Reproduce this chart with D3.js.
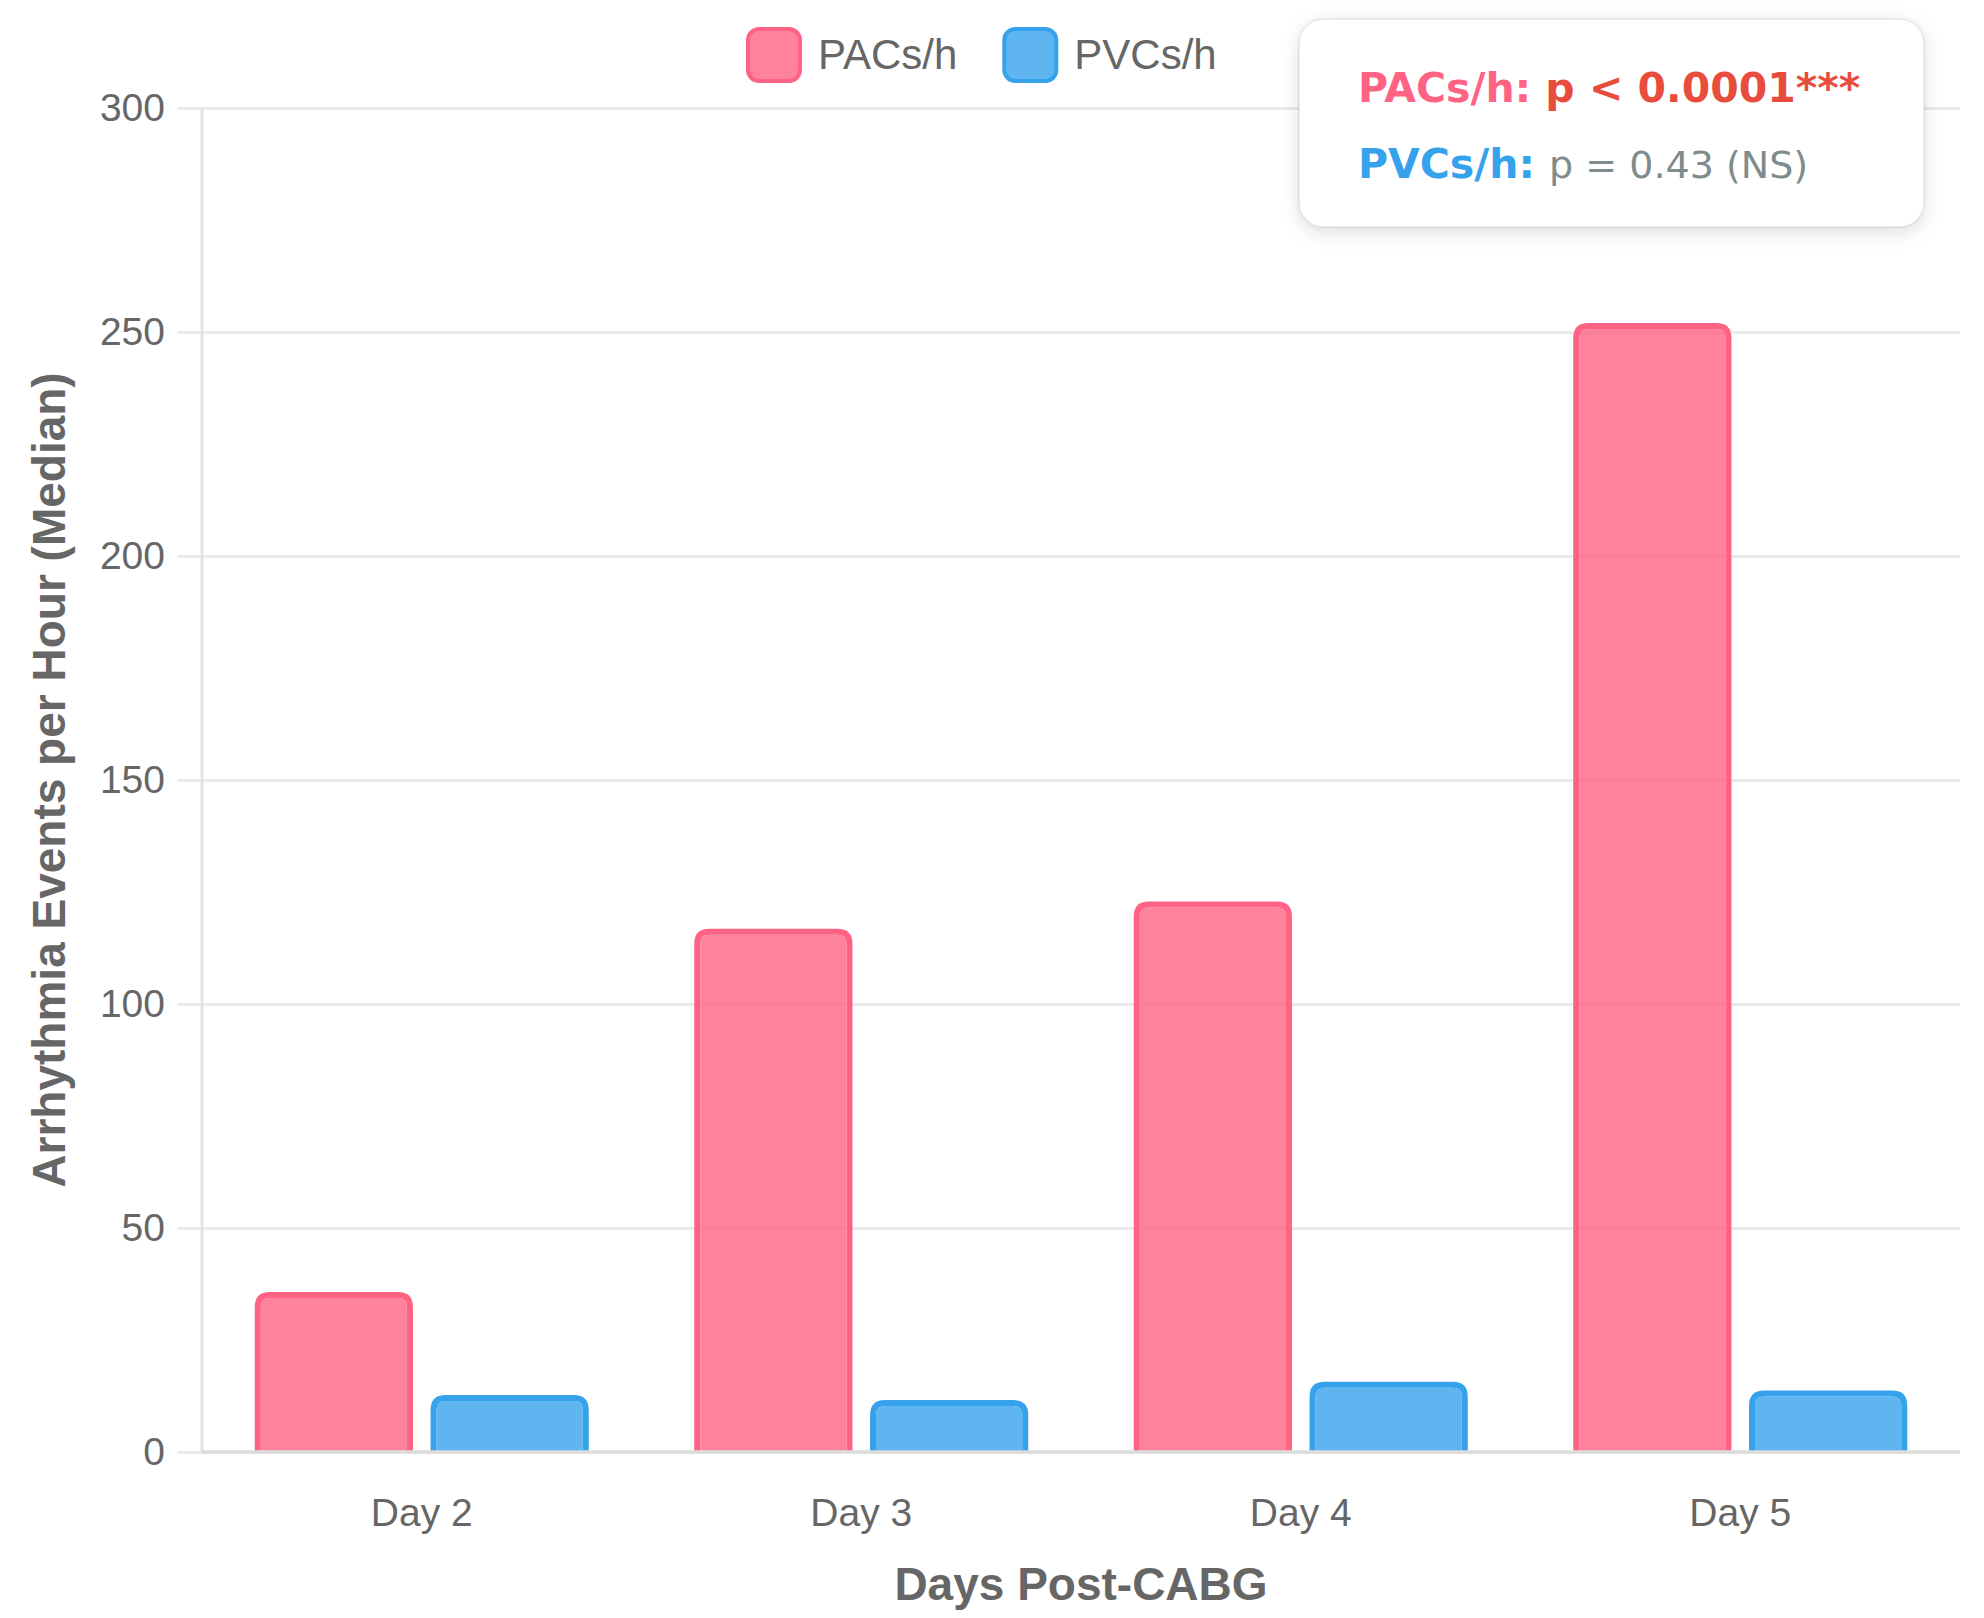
<!DOCTYPE html>
<html>
<head>
<meta charset="utf-8">
<script src="https://cdn.jsdelivr.net/npm/d3@7"></script>
<style>
  html, body { margin: 0; padding: 0; background: #fff; }
  svg { display: block; font-family: "Liberation Sans", Arial, Helvetica, sans-serif; }
</style>
</head>
<body>
<svg id="chart"></svg>
<script>
// data
const days = ['Day 2', 'Day 3', 'Day 4', 'Day 5'];
const seriesNames = ['PACs/h', 'PVCs/h'];
const pacs = [35.7, 116.8, 122.9, 252];
const pvcs = [12.7, 11.6, 15.7, 13.7];
const yTicks = [0, 50, 100, 150, 200, 250, 300];
const pLines = [
  { label: 'PACs/h:', value: 'p < 0.0001***' },
  { label: 'PVCs/h:', value: 'p = 0.43 (NS)' }
];

const width = 1984, height = 1618;
const margin = { top: 108, left: 202, right: 24, bottom: 166 };
const iwidth = width - margin.left - margin.right;
const iheight = height - margin.top - margin.bottom;

const colors = {
  'PACs/h': { fill: 'rgba(255,99,132,0.8)', stroke: '#ff6384' },
  'PVCs/h': { fill: 'rgba(54,162,235,0.8)', stroke: '#36a2eb' }
};

const svg = d3.select('#chart').attr('width', width).attr('height', height);

const defs = svg.append('defs');
const shadow = defs.append('filter').attr('id', 'shadow')
  .attr('x', '-10%').attr('y', '-20%').attr('width', '120%').attr('height', '150%');
shadow.append('feDropShadow').attr('dx', 0).attr('dy', 5).attr('stdDeviation', 9)
  .attr('flood-color', '#000').attr('flood-opacity', 0.13);

const g = svg.append('g').attr('transform', `translate(${margin.left},${margin.top})`);

const y = d3.scaleLinear().domain([0, 300]).range([iheight, 0]);
const x0 = d3.scaleBand().domain(days).range([0, iwidth]).padding(0);
const bw = x0.bandwidth();
const x1 = d3.scaleBand().domain(seriesNames).range([bw * 0.1, bw * 0.9])
  .paddingInner(0.1).paddingOuter(0.05);

// y axis with gridlines
const yAxis = g.append('g').call(d3.axisLeft(y).tickValues(yTicks).tickSize(0).tickPadding(37));
yAxis.select('.domain').remove();
yAxis.selectAll('.tick line')
  .attr('x1', -25).attr('x2', iwidth)
  .attr('stroke', '#ebebeb').attr('stroke-width', 3);
yAxis.selectAll('.tick text')
  .attr('fill', '#666').style('font-size', '39px')
  .style('font-family', '"Liberation Sans", Arial, sans-serif');

// left axis line
g.append('line').attr('x1', 0).attr('x2', 0).attr('y1', 0).attr('y2', iheight)
  .attr('stroke', '#e3e3e3').attr('stroke-width', 3);

// bars: border ring drawn inside the bar, bottom edge skipped, top corners rounded
function roundTop(x, yTop, w, h, r) {
  r = Math.min(r, w / 2, h);
  const yb = yTop + h;
  return `M${x},${yb}L${x},${yTop + r}Q${x},${yTop} ${x + r},${yTop}` +
    `L${x + w - r},${yTop}Q${x + w},${yTop} ${x + w},${yTop + r}L${x + w},${yb}Z`;
}
function barPaths(x, yTop, w, h, r, bwid) {
  const outer = roundTop(x, yTop, w, h, r);
  const inner = roundTop(x + bwid, yTop + bwid, w - 2 * bwid, h - bwid, Math.max(0, r - bwid));
  return { outer, inner };
}

const rows = days.map((d, i) => ({ day: d, vals: [
  { key: 'PACs/h', v: pacs[i] },
  { key: 'PVCs/h', v: pvcs[i] }
] }));

const groups = g.selectAll('.grp').data(rows).enter().append('g')
  .attr('class', 'grp')
  .attr('transform', d => `translate(${x0(d.day)},0)`);

groups.selectAll('.bar').data(d => d.vals).enter().append('g').attr('class', 'bar')
  .each(function (d) {
    const bx = x1(d.key), by = y(d.v), bwid = x1.bandwidth(), bh = iheight - y(d.v);
    const p = barPaths(bx, by, bwid, bh, 15, 6);
    const sel = d3.select(this);
    sel.append('path').attr('d', p.inner).attr('fill', colors[d.key].fill);
    sel.append('path').attr('d', p.outer + p.inner).attr('fill-rule', 'evenodd')
      .attr('fill', colors[d.key].stroke);
  });

// bottom axis
const xAxis = g.append('g').attr('transform', `translate(0,${iheight})`)
  .call(d3.axisBottom(x0).tickSize(0).tickPadding(46));
xAxis.select('.domain').remove();
xAxis.selectAll('.tick text')
  .attr('fill', '#666').style('font-size', '39px')
  .style('font-family', '"Liberation Sans", Arial, sans-serif');
g.append('line').attr('x1', 0).attr('x2', iwidth).attr('y1', iheight).attr('y2', iheight)
  .attr('stroke', '#dcdcdc').attr('stroke-width', 3.5);

// axis titles
svg.append('text')
  .attr('x', margin.left + iwidth / 2).attr('y', 1600)
  .attr('text-anchor', 'middle').attr('fill', '#666')
  .style('font-size', '46px').style('font-weight', 'bold')
  .text('Days Post-CABG');

svg.append('text')
  .attr('transform', `translate(65,${margin.top + iheight * 0.5}) rotate(-90)`)
  .attr('text-anchor', 'middle').attr('fill', '#666')
  .style('font-size', '46px').style('font-weight', 'bold')
  .text('Arrhythmia Events per Hour (Median)');

// legend
const legend = svg.append('g');
let lx = 746;
seriesNames.forEach(name => {
  const item = legend.append('g').attr('transform', `translate(${lx},27)`);
  item.append('rect').attr('x', 2).attr('y', 2).attr('width', 52).attr('height', 52)
    .attr('rx', 11).attr('fill', colors[name].fill)
    .attr('stroke', colors[name].stroke).attr('stroke-width', 4);
  const t = item.append('text').attr('x', 72).attr('y', 42)
    .attr('fill', '#666').style('font-size', '42px').text(name);
  lx += 72 + t.node().getComputedTextLength() + 45;
});

// p-value box
const box = svg.append('g');
box.append('rect').attr('x', 1299).attr('y', 19).attr('width', 625).attr('height', 208)
  .attr('rx', 24).attr('fill', '#fff')
  .attr('stroke', 'rgba(0,0,0,0.07)').attr('stroke-width', 2)
  .attr('filter', 'url(#shadow)');

const lineY = [102, 178];
pLines.forEach((l, i) => {
  const t = box.append('text').attr('x', 1358).attr('y', lineY[i])
    .style('font-family', '"DejaVu Sans", Verdana, sans-serif');
  t.append('tspan').attr('fill', i === 0 ? '#ff6384' : '#36a2eb')
    .style('font-weight', 'bold').style('font-size', '41px').text(l.label + ' ');
  t.append('tspan')
    .attr('fill', i === 0 ? '#e74c3c' : '#7f8c8d')
    .style('font-weight', i === 0 ? 'bold' : 'normal')
    .style('font-size', i === 0 ? '41px' : '38px')
    .text(l.value);
});
</script>
</body>
</html>
